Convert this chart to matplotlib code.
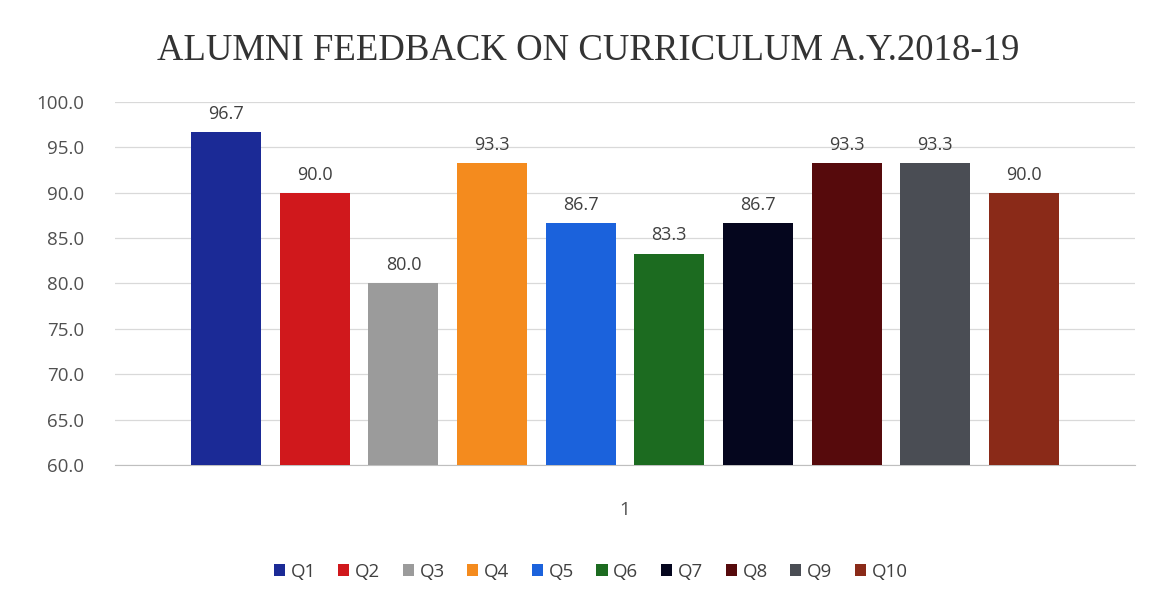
import numpy as np
import matplotlib.pyplot as plt
from matplotlib.patches import Patch

# data
questions = ["Q1", "Q2", "Q3", "Q4", "Q5", "Q6", "Q7", "Q8", "Q9", "Q10"]
scores = [96.7, 90.0, 80.0, 93.3, 86.7, 83.3, 86.7, 93.3, 93.3, 90.0]
colors = ["#1b2a96", "#d0181c", "#9b9b9b", "#f48b1e", "#1b62dc",
          "#1c6b20", "#05061e", "#560a0c", "#4a4d54", "#8a2a18"]
group_label = ["1"]

plt.rcParams['font.family'] = ['Open Sans', 'DejaVu Sans']

fig = plt.figure(figsize=(11.65, 6.07), dpi=100)
ax = fig.add_axes([0.0987, 0.234, 0.8755, 0.598])

step = 0.0869
width = 0.0686
n = len(questions)
for i, (q, s, c) in enumerate(zip(questions, scores, colors)):
    x = 1 + (i - (n - 1) / 2) * step
    ax.bar(x, s - 60, width=width, bottom=60, color=c, label=q, zorder=3)
    ax.text(x, s + 1.0, f"{s:.1f}", ha="center", va="bottom",
            fontsize=13, color="#404040")

ax.set_xlim(0.5, 1.5)
ax.set_ylim(60, 100)
ax.set_yticks(np.arange(60, 101, 5))
ax.set_yticklabels([f"{v:.1f}" for v in np.arange(60, 101, 5)])
ax.set_xticks([1])
ax.set_xticklabels(group_label)
ax.tick_params(axis="both", length=0, labelsize=13.5, labelcolor="#505050")
ax.tick_params(axis="x", pad=26)
ax.tick_params(axis="y", pad=22)
ax.grid(axis="y", color="#d9d9d9", linewidth=0.9, zorder=0)
for side in ["top", "right", "left"]:
    ax.spines[side].set_visible(False)
ax.spines["bottom"].set_color("#bfbfbf")

fig.suptitle("ALUMNI FEEDBACK ON CURRICULUM A.Y.2018-19",
             family="Liberation Serif", fontsize=26.5, color="#333333",
             x=0.505, y=0.945)

handles = [Patch(facecolor=c, label=q) for q, c in zip(questions, colors)]
fig.legend(handles=handles, loc="center", bbox_to_anchor=(0.507, 0.058),
           ncol=10, frameon=False, fontsize=13.5, handlelength=0.6,
           handleheight=0.6, handletextpad=0.3, columnspacing=1.2,
           labelcolor="#404040")

fig.savefig("out.png", dpi=100)
